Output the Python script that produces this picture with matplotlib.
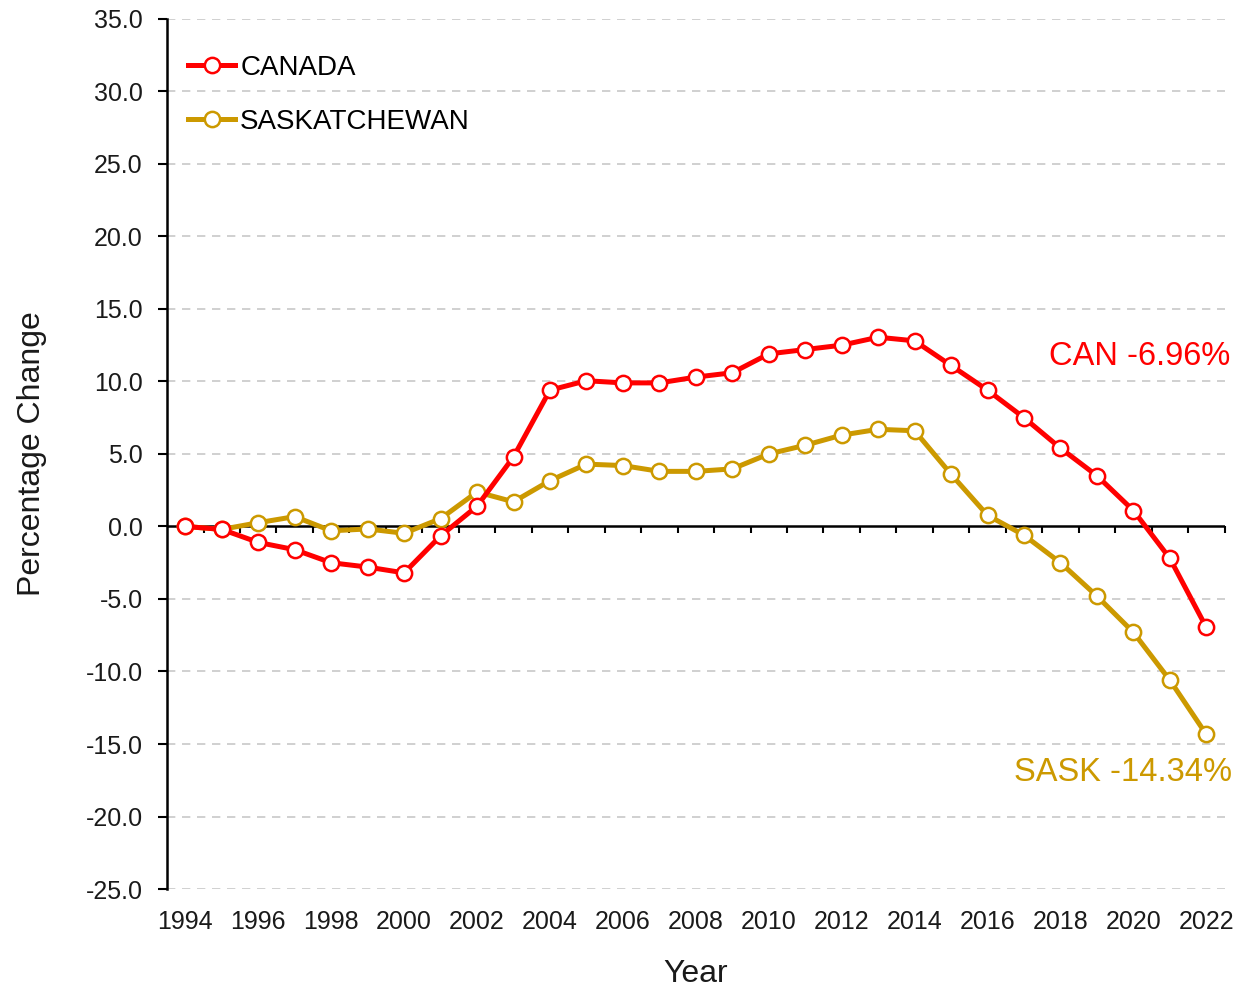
import numpy as np
import matplotlib
matplotlib.use("Agg")
import matplotlib.pyplot as plt
from matplotlib.ticker import FormatStrFormatter

plt.rcParams["font.family"] = ["Liberation Sans", "DejaVu Sans"]

# =========================
# DATA
# =========================

years = list(range(1994, 2023))

canada = [0.0, -0.2, -1.1, -1.6, -2.5, -2.8, -3.2, -0.65, 1.4, 4.8,
          9.4, 10.05, 9.9, 9.9, 10.3, 10.6, 11.9, 12.2, 12.5, 13.05,
          12.8, 11.1, 9.4, 7.5, 5.4, 3.5, 1.1, -2.2, -6.96]

sask = [0.0, -0.2, 0.26, 0.68, -0.3, -0.17, -0.47, 0.54, 2.38, 1.7,
        3.16, 4.3, 4.2, 3.8, 3.8, 3.97, 5.0, 5.6, 6.3, 6.7,
        6.6, 3.6, 0.77, -0.6, -2.5, -4.8, -7.3, -10.6, -14.34]

series_names = ["CANADA", "SASKATCHEWAN"]
end_labels = ["CAN -6.96%", "SASK -14.34%"]

x_tick_years = list(range(1994, 2023, 2))
y_ticks = list(range(-25, 36, 5))

red = "#FF0000"
gold = "#CC9900"

# =========================
# PLOT
# =========================

fig = plt.figure(figsize=(12.47, 9.94), dpi=100)
ax = fig.add_axes([0.134, 0.1056, 0.848, 0.8754])

ax.set_xlim(1993.5, 2022.5)
ax.set_ylim(-25, 35)

for v in y_ticks:
    if v != 0:
        ax.axhline(v, color="#C8C8C8", lw=1.2, ls=(0, (5, 4)), zorder=0)
ax.axhline(0, color="black", lw=1.8, zorder=1)

ax.plot(years, canada, color=red, lw=3.6, marker="o", ms=11,
        mfc="white", mec=red, mew=1.8, label=series_names[0], zorder=3)
ax.plot(years, sask, color=gold, lw=3.6, marker="o", ms=11,
        mfc="white", mec=gold, mew=1.8, label=series_names[1], zorder=2)

ax.text(2022.65, 11.75, end_labels[0], color=red, fontsize=23.5,
        ha="right", va="center", clip_on=False)
ax.text(2022.7, -16.95, end_labels[1], color=gold, fontsize=23.5,
        ha="right", va="center", clip_on=False)

# axes styling
for side in ["top", "right", "bottom"]:
    ax.spines[side].set_visible(False)
ax.spines["left"].set_linewidth(1.8)

ax.set_yticks(y_ticks)
ax.yaxis.set_major_formatter(FormatStrFormatter("%.1f"))
ax.tick_params(axis="y", direction="out", length=6.5, width=1.5,
               labelsize=18, pad=11, labelcolor="#1a1a1a")

ax.set_xticks(x_tick_years)
ax.set_xticklabels([str(y) for y in x_tick_years])
ax.tick_params(axis="x", length=0, labelsize=18, pad=15,
               labelcolor="#1a1a1a")

# tick marks on the zero line between categories
zero_axis = ax.secondary_xaxis(25 / 60)
zero_axis.spines["bottom"].set_visible(False)
zero_axis.set_xticks(np.arange(1994.5, 2022.6, 1.0))
zero_axis.tick_params(axis="x", direction="out", length=5, width=1.5,
                      labelbottom=False)

ax.set_xlabel("Year", fontsize=23, labelpad=18, color="#1a1a1a")
ax.set_ylabel("Percentage Change", fontsize=23, labelpad=28,
              color="#1a1a1a")

ax.legend(loc="upper left", frameon=False, fontsize=20,
          handlelength=1.7, handletextpad=0.18, labelspacing=1.02,
          borderaxespad=0.35, bbox_to_anchor=(0.0, 0.983))

fig.savefig("out.png", dpi=100, facecolor="white")
